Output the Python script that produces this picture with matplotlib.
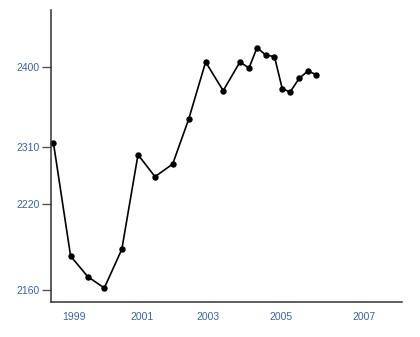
import numpy as np
import matplotlib
matplotlib.use("Agg")
import matplotlib.pyplot as plt

# Data
years = [1998.38, 1998.89, 1999.40, 1999.89, 2000.41, 2000.89, 2001.40, 2001.93,
         2002.41, 2002.92, 2003.41, 2003.87, 2004.12, 2004.34, 2004.58, 2004.82,
         2005.03, 2005.22, 2005.44, 2005.65, 2005.85]
values = [2314.5, 2183.7, 2169.3, 2161.4, 2188.4, 2297.4, 2262.9, 2282.8,
          2340.8, 2405.3, 2373.0, 2405.3, 2398.5, 2421.4, 2413.2, 2411.3,
          2375.3, 2371.5, 2387.0, 2395.2, 2391.0]
x_ticks = [1999, 2001, 2003, 2005, 2007]
x_tick_labels = ["1999", "2001", "2003", "2005", "2007"]
y_ticks = [2160, 2220, 2310, 2400]
y_tick_labels = ["2160", "2220", "2310", "2400"]

# Non-uniform axis scales of the original chart (knot positions in pixels)
x_knot_pos = [74.3, 141.7, 208.3, 281.0, 364.0]
y_knot_pos = [47.0, 133.0, 190.3, 270.3]


def make_pw(kv, kp):
    kv = np.asarray(kv, float)
    kp = np.asarray(kp, float)

    def fwd(v):
        v = np.asarray(v, float)
        out = np.interp(v, kv, kp)
        s0 = (kp[1] - kp[0]) / (kv[1] - kv[0])
        s1 = (kp[-1] - kp[-2]) / (kv[-1] - kv[-2])
        out = np.where(v < kv[0], kp[0] + (v - kv[0]) * s0, out)
        out = np.where(v > kv[-1], kp[-1] + (v - kv[-1]) * s1, out)
        return out

    def inv(p):
        p = np.asarray(p, float)
        out = np.interp(p, kp, kv)
        s0 = (kv[1] - kv[0]) / (kp[1] - kp[0])
        s1 = (kv[-1] - kv[-2]) / (kp[-1] - kp[-2])
        out = np.where(p < kp[0], kv[0] + (p - kp[0]) * s0, out)
        out = np.where(p > kp[-1], kv[-1] + (p - kp[-1]) * s1, out)
        return out

    return fwd, inv


plt.rcParams['font.family'] = ['Liberation Sans', 'DejaVu Sans']

fig = plt.figure(figsize=(4.2, 3.37), dpi=100)
ax = fig.add_axes([50.7 / 420, 35 / 337, (401.7 - 50.7) / 420, (327 - 35) / 337])

ax.set_xscale('function', functions=make_pw(x_ticks, x_knot_pos))
ax.set_yscale('function', functions=make_pw(y_ticks, y_knot_pos))

ax.plot(years, values, color='black', lw=1.2, marker='o', markersize=3.6,
        markerfacecolor='black', markeredgecolor='black', clip_on=False)

xf, xi = make_pw(x_ticks, x_knot_pos)
yf, yi = make_pw(y_ticks, y_knot_pos)
ax.set_xlim(float(xi(50.7)), float(xi(401.7)))
ax.set_ylim(float(yi(35.0)), float(yi(327.0)))

ax.set_xticks(x_ticks)
ax.set_xticklabels(x_tick_labels)
ax.set_yticks(y_ticks)
ax.set_yticklabels(y_tick_labels)
ax.minorticks_off()

label_color = '#3566a6'
ax.tick_params(axis='x', length=0, pad=7, labelsize=7.5, labelcolor=label_color)
ax.tick_params(axis='y', length=6.5, width=1.0, color='#555555', pad=1.5,
               labelsize=7.5, labelcolor=label_color)

for side in ['top', 'right']:
    ax.spines[side].set_visible(False)
for side in ['left', 'bottom']:
    ax.spines[side].set_color('#333333')
    ax.spines[side].set_linewidth(1.1)

fig.savefig('out.png', dpi=100)
